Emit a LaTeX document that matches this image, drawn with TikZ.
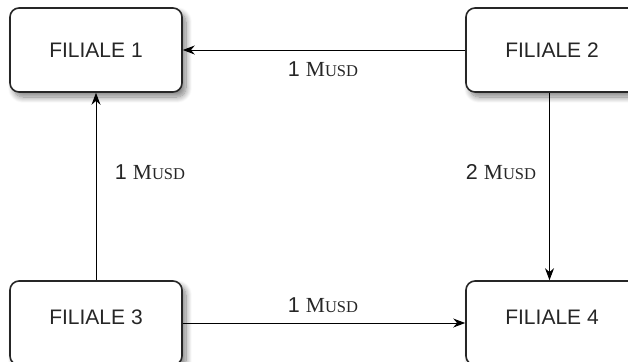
\documentclass[tikz,border=0pt]{standalone}
\usepackage{fontspec}
\setmainfont{Liberation Sans}
\newfontfamily\serifM{Liberation Serif}
\usetikzlibrary{arrows.meta,shadows.blur}
\newcommand\musd{{\serifM M{\fontsize{16.5bp}{16.5bp}\selectfont USD}}}
\begin{document}
\begin{tikzpicture}[x=1bp,y=-1bp,
  box/.style={draw=black!85, line width=1.6bp, rounded corners=9bp, fill=white,
    minimum width=172bp, minimum height=84bp, inner sep=0pt,
    font=\fontsize{21bp}{25bp}\selectfont, text=black!85,
    blur shadow={shadow xshift=4bp,shadow yshift=-5bp,shadow blur steps=12,shadow blur radius=6bp,shadow opacity=50}},
  boxtext/.style={font=\fontsize{21bp}{25bp}\selectfont, text=black!85, inner sep=0pt},
  conn/.style={draw=black, line width=1bp, -{Stealth[length=12bp,width=9bp]}},
  lbl/.style={font=\fontsize{21.5bp}{25bp}\selectfont, text=black!85, inner sep=0pt}]
\useasboundingbox (0,0) rectangle (628,361);
\clip (0,0) rectangle (628,361);
\node[box] (f1) at (96,50) {FILIALE 1};
\node[box] (f2) at (552,50) {FILIALE 2};
\node[box] (f3) at (96,323) {};
\node[box] (f4) at (552,323) {};
\node[boxtext] (t3) at (96,317) {FILIALE 3};
\node[boxtext] (t4) at (552,317) {FILIALE 4};
\draw[conn] (f2) -- (f1);
\draw[conn] (f3) -- (f1);
\draw[conn] ([xshift=-2.5bp]f2.south) -- ([xshift=-2.5bp]f4.north);
\draw[conn] (f3) -- (f4);
\node[lbl] (l12) at (323,69) {1 \musd};
\node[lbl] (l31) at (150,172.5) {1 \musd};
\node[lbl] (l24) at (501,172.5) {2 \musd};
\node[lbl] (l34) at (323,305) {1 \musd};
\end{tikzpicture}
\end{document}
